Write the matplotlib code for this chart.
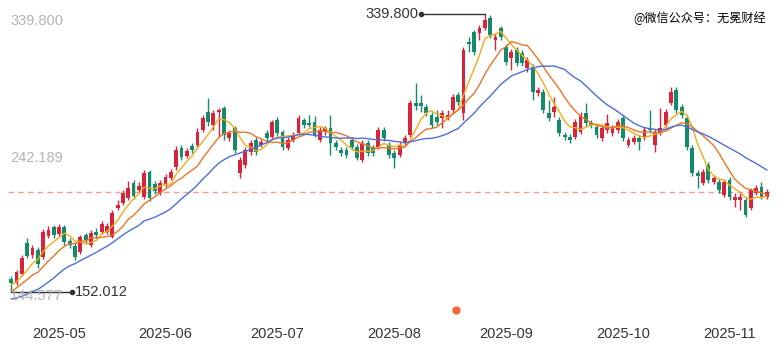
import matplotlib
matplotlib.use("Agg")
import matplotlib.pyplot as plt
import numpy as np
import pandas as pd

# daily k-line, prices (HK trading days from 2025-04-16)
open_ = [160.8, 158.1, 164.2, 185.2, 177.0, 180.4, 175.7, 189.9, 195.9, 191.2,
         195.9, 186.5, 183.1, 179.1, 190.6, 183.8, 192.6, 192.6, 192.6, 189.2,
         208.8, 212.2, 215.6, 225.7, 221.0, 216.2, 233.1, 225.0, 218.9, 224.3,
         229.1, 236.5, 249.3, 243.9, 250.7, 251.4, 261.5, 273.6, 264.9, 273.6,
         276.3, 256.1, 262.8, 232.4, 237.8, 246.6, 254.7, 251.4, 259.5, 256.8,
         268.2, 260.1, 249.3, 254.7, 259.5, 268.2, 266.2, 266.9, 254.7, 260.1,
         262.8, 252.7, 248.0, 248.0, 254.7, 250.0, 241.2, 252.7, 249.3, 250.0,
         261.5, 251.4, 246.0, 244.6, 252.7, 258.1, 279.7, 279.7, 277.0, 271.6,
         270.3, 269.6, 270.3, 275.0, 285.1, 273.0, 320.9, 327.7, 327.0, 330.4,
         337.1, 322.3, 330.4, 317.5, 310.1, 315.5, 313.5, 303.4, 304.0, 286.5,
         287.2, 273.0, 273.6, 268.2, 258.1, 256.8, 256.8, 260.1, 273.0, 266.2,
         263.5, 256.1, 261.5, 259.5, 261.5, 269.6, 251.4, 253.4, 256.1, 256.1,
         262.8, 251.4, 260.1, 264.9, 279.7, 288.5, 277.0, 269.6, 249.3, 232.4,
         225.7, 237.8, 226.4, 226.4, 217.6, 227.7, 214.2, 214.2, 214.2, 208.8,
         218.9, 223.0, 216.2]
close = [158.1, 165.6, 175.0, 176.4, 181.8, 171.0, 192.6, 193.9, 190.6, 195.9,
         185.8, 183.8, 175.7, 189.2, 187.2, 191.9, 190.6, 198.0, 196.6, 205.4,
         210.8, 218.9, 222.3, 216.9, 223.7, 232.4, 215.6, 220.3, 225.7, 229.7,
         233.1, 248.0, 243.2, 247.3, 248.0, 260.1, 269.6, 266.9, 273.0, 275.0,
         258.1, 259.5, 248.0, 241.2, 248.0, 252.7, 246.6, 253.4, 256.1, 266.9,
         259.5, 250.0, 254.7, 258.1, 269.6, 264.9, 264.9, 258.1, 261.5, 262.8,
         252.7, 250.0, 246.0, 244.6, 250.0, 242.6, 252.7, 246.0, 246.0, 261.5,
         256.1, 244.6, 242.6, 251.4, 256.1, 279.7, 277.7, 277.7, 273.0, 264.9,
         266.9, 273.0, 271.6, 283.8, 280.4, 315.5, 319.6, 314.2, 330.4, 335.8,
         325.7, 324.3, 324.3, 307.4, 314.2, 306.7, 306.7, 308.8, 287.2, 288.5,
         275.0, 269.6, 277.0, 259.5, 256.8, 254.7, 266.9, 271.6, 266.2, 264.9,
         258.1, 262.8, 266.2, 262.8, 266.9, 256.1, 254.7, 256.1, 253.4, 261.5,
         261.5, 260.1, 262.8, 273.6, 287.2, 275.0, 271.6, 250.0, 232.4, 230.4,
         233.1, 227.7, 229.1, 221.0, 226.4, 216.2, 216.2, 216.2, 204.1, 221.0,
         222.3, 216.2, 219.6]
high = [162.9, 166.9, 177.0, 188.5, 183.8, 182.5, 194.6, 196.6, 197.3, 198.0,
        197.3, 188.5, 185.2, 190.6, 191.9, 193.9, 195.3, 200.0, 198.7, 207.4,
        214.2, 221.0, 227.0, 227.7, 226.4, 234.5, 234.5, 227.0, 227.7, 231.8,
        235.1, 250.7, 251.4, 249.3, 252.7, 262.8, 271.6, 283.1, 275.0, 276.3,
        277.7, 261.5, 264.2, 243.2, 250.0, 254.7, 256.8, 255.4, 261.5, 268.2,
        270.3, 261.5, 256.8, 260.1, 271.6, 269.6, 271.6, 270.9, 263.5, 264.2,
        271.6, 254.7, 250.0, 250.0, 256.8, 252.0, 254.7, 254.7, 251.4, 263.5,
        263.5, 253.4, 248.0, 253.4, 258.1, 281.8, 293.2, 285.1, 279.0, 273.6,
        275.0, 275.0, 275.0, 285.8, 287.2, 317.5, 324.3, 329.0, 332.4, 339.8,
        339.2, 327.0, 331.7, 319.6, 316.2, 317.5, 315.5, 310.8, 306.1, 290.5,
        289.2, 281.8, 283.8, 270.3, 260.1, 258.8, 268.9, 273.6, 279.7, 268.2,
        265.5, 264.9, 272.3, 264.9, 268.9, 271.6, 256.8, 258.1, 258.1, 263.5,
        275.0, 262.2, 276.3, 275.7, 290.5, 290.5, 279.0, 271.6, 251.4, 234.5,
        235.1, 239.9, 231.1, 228.4, 228.4, 229.7, 218.9, 218.9, 215.6, 222.3,
        224.3, 226.4, 221.6]
low = [152.012, 156.8, 162.9, 175.0, 175.0, 168.3, 174.3, 188.5, 188.5, 189.9,
       183.8, 181.8, 173.7, 177.7, 185.2, 182.5, 188.5, 191.2, 191.2, 188.5,
       207.4, 210.8, 214.2, 214.9, 218.9, 214.9, 213.5, 218.3, 217.6, 223.0,
       227.7, 234.5, 241.2, 242.6, 246.0, 250.0, 260.1, 264.2, 261.5, 256.8,
       254.7, 254.1, 246.0, 229.1, 235.8, 244.6, 244.6, 250.0, 254.1, 255.4,
       257.4, 248.0, 248.0, 253.4, 258.1, 262.8, 263.5, 256.8, 253.4, 258.1,
       244.6, 248.0, 243.9, 242.6, 248.0, 241.2, 239.9, 243.9, 243.9, 248.7,
       254.1, 242.6, 235.8, 243.2, 251.4, 256.8, 275.0, 273.6, 270.9, 262.8,
       264.9, 262.8, 268.2, 273.0, 278.4, 268.2, 314.2, 312.1, 322.3, 329.0,
       323.6, 315.5, 322.3, 305.4, 302.0, 304.7, 304.7, 300.7, 281.8, 284.5,
       273.0, 267.6, 270.3, 257.4, 254.7, 252.7, 255.4, 258.8, 264.2, 262.8,
       256.1, 254.1, 259.5, 257.4, 259.5, 254.1, 250.0, 252.0, 248.0, 254.7,
       259.5, 246.6, 258.1, 263.5, 278.4, 273.0, 269.6, 248.0, 230.4, 222.3,
       224.3, 225.7, 225.0, 218.9, 216.2, 214.2, 209.5, 207.4, 202.7, 207.4,
       217.6, 214.9, 214.9]

# closes before the visible window, only used so the MAs start where they do
warmup_close = [152, 150, 147, 148, 143, 145, 140, 138, 132, 128,
                140, 146, 149, 151, 153, 154, 156, 157, 158]

hk_holidays = ["2025-04-18", "2025-04-21", "2025-05-01", "2025-05-05",
               "2025-07-01", "2025-10-01", "2025-10-07", "2025-10-29"]
start_date = "2025-04-16"
event_dates = ["2025-08-19"]
y_axis_min = 144.577

ma_periods = [5, 10, 20]
ma_colors = ["#f3ac1a", "#ec7428", "#4c6fd9"]
up_color = "#d8243b"
down_color = "#148a6b"

n = len(close)
dates = pd.bdate_range(start=start_date, periods=n, freq="C", holidays=hk_holidays)
x = np.arange(n)
o = np.array(open_)
c = np.array(close)
h = np.array(high)
l = np.array(low)

fig = plt.figure(figsize=(7.83, 3.54), dpi=100)
ax = fig.add_axes([8 / 783, 51 / 354, 762 / 783, 289 / 354])
ax.set_xlim(-0.6, n - 0.4)
y_max = h.max()
ax.set_ylim(y_axis_min, y_max)

colors = np.where(c >= o, up_color, down_color)
ax.vlines(x, l, h, colors=colors, lw=1, zorder=2)
body_lo = np.minimum(o, c)
body_h = np.maximum(np.abs(c - o), 0.7)
ax.bar(x, body_h, bottom=body_lo, width=0.72, color=colors, lw=0, zorder=3)

# moving averages
full = pd.Series(np.r_[warmup_close, close], dtype=float)
for p, col in zip(ma_periods, ma_colors):
    ma = full.rolling(p).mean().to_numpy()[len(warmup_close):]
    ax.plot(x, ma, color=col, lw=1.0, zorder=4)

# last price line
ax.axhline(c[-1], color="#f09a9a", lw=1, ls=(0, (4, 3)), zorder=1)

font = "Liberation Sans"
# max / min markers
i_hi = int(np.argmax(h))
i_lo = int(np.argmin(l))
arm = 12
ax.plot([i_hi - arm, i_hi], [h[i_hi], h[i_hi]], color="#333333", lw=1, zorder=5, clip_on=False)
ax.plot([i_hi - arm], [h[i_hi]], "o", color="#333333", ms=3, zorder=5, clip_on=False)
ax.annotate(f"{h[i_hi]:.3f}", (i_hi - arm, h[i_hi]), xytext=(-2, 0), textcoords="offset points",
            ha="right", va="center", fontsize=10.5, color="#333333", family=font)
ax.plot([i_lo, i_lo + arm - 0.5], [l[i_lo], l[i_lo]], color="#333333", lw=1, zorder=5, clip_on=False)
ax.plot([i_lo + arm - 0.5], [l[i_lo]], "o", color="#333333", ms=3, zorder=5, clip_on=False)
ax.annotate(f"{l[i_lo]:.3f}", (i_lo + arm - 0.5, l[i_lo]), xytext=(2, 0), textcoords="offset points",
            ha="left", va="center", fontsize=10.5, color="#333333", family=font)

# y labels drawn inside the plot
lab_kw = dict(transform=ax.get_yaxis_transform(), fontsize=10.5, color="#b2b4b8", family=font, zorder=6)
ax.text(0.003, y_max, f"{y_max:.3f}", va="top", **lab_kw)
ax.text(0.003, (y_max + y_axis_min) / 2, f"{(y_max + y_axis_min) / 2:.3f}", va="center", **lab_kw)
ax.text(0.003, y_axis_min, f"{y_axis_min:.3f}", va="bottom", **lab_kw)

# event dot under the axis
for d in event_dates:
    i = dates.get_loc(pd.Timestamp(d))
    ax.plot([i - 0.5], [y_axis_min - 5], "o", color="#f26a3d", ms=5, clip_on=False, zorder=6)

# month ticks at first trading day of each month
ticks = [i for i in range(1, n) if dates[i].month != dates[i - 1].month]
ax.set_xticks(ticks)
ax.set_xticklabels([dates[i].strftime("%Y-%m") for i in ticks], family=font, fontsize=10.5, color="#333333")
ax.tick_params(axis="x", length=0, pad=17)
ax.set_yticks([])
for s in ax.spines.values():
    s.set_visible(False)

fig.text(766 / 783, 1 - 18 / 354, "@微信公众号：无冕财经", ha="right", va="center",
         fontsize=8.7, color="#000000", family=["Noto Sans CJK SC", "DejaVu Sans"])

fig.savefig("out.png", dpi=100)
